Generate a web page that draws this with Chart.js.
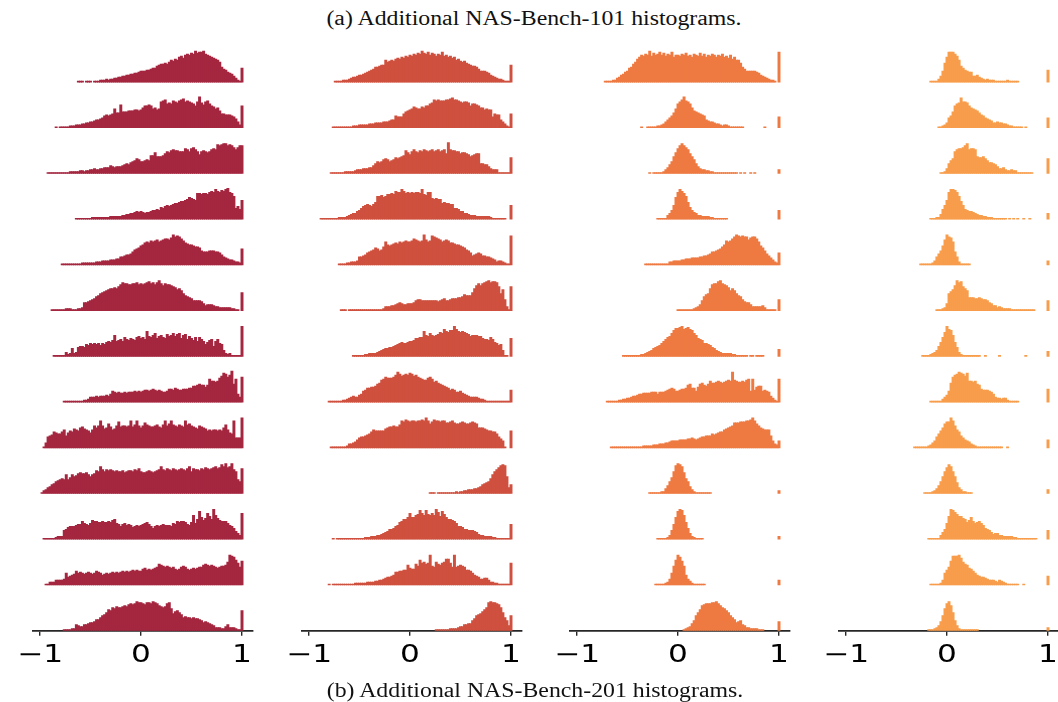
<!DOCTYPE html>
<html>
<head>
<meta charset="utf-8">
<script src="https://cdn.jsdelivr.net/npm/chart.js@4.4.1/dist/chart.umd.min.js"></script>
<style>
  html, body { margin: 0; padding: 0; background: #fff; width: 1058px; height: 702px; overflow: hidden; position: relative; }
  canvas { position: absolute; top: 0; }
  .cap {
    position: absolute;
    font-family: "Liberation Serif", "Times New Roman", serif;
    font-size: 20px; line-height: 20px; color: #111; white-space: nowrap;
    transform: translate(-50%, -50%) scaleX(1.19);
  }
</style>
</head>
<body>
<div class="cap" style="left:533.5px; top:17.5px">(a) Additional NAS-Bench-101 histograms.</div>
<canvas id="c0" width="300" height="702"></canvas>
<canvas id="c1" width="300" height="702"></canvas>
<canvas id="c2" width="300" height="702"></canvas>
<canvas id="c3" width="300" height="702"></canvas>
<div class="cap" style="left:535px; top:690px">(b) Additional NAS-Bench-201 histograms.</div>
<script>
// Histogram bins: width 0.02, centred at -1, -0.98, ..., 1 (101 bins).
const BIN_START = -1;
const BIN_WIDTH = 0.02;

// Bin heights, one base-36 character per bin (spaces only group the bins in tens).
// Thirteen stacked histograms per column, listed top to bottom.
const hist1 = [
  "0000000000 0000000001 1101110111 2223233445 566778899a bbbccdeegh iijikmlnmp qorsrtsvtu uvsrqponmk fdca986421 e",
  "0000000010 1111122233 3445566788 9acdcdejff nggghhhiih ikmmnmjkij qrsoporqpr stqrqpomqv pnqromljkh eedddcb963 m",
  "0000111111 1111122222 3323344544 5566687677 789a9bcdfe ccdediilhh hikmlnonnm mmpompqomj mnmlmopots tuustsqoqs s",
  "0000000000 0000000011 1111112222 2222233333 3445566787 87677899a9 cbdedefggh iijkmlkjqq pqqprsrusr tsuvrqnbda j",
  "0000000000 0111111111 1222222233 3444455566 889aabdfgh jkmnmonopn opqqprusts qomlkkjiih edddeeeddc a876554332 g",
  "0000001111 1112221112 23889abcef hijklmmnmo qsrrqqrrsq rqrstrsqsu rprqqponlm khfedcaaaa 9756665443 3333322110 i",
  "0000000111 1114238349 aa9cbdcdcd bdcefeglfg hfjhgihgjk ijhpkjlnik ljimklnkmn ilmhkigjfj hfceghafhd c632311111 u",
  "0000000000 0011111111 1122355565 666768ba9a 99a9aaabab abccbcdcbc baabddcedc cdddeegghi hhfhnllklo qtsprvin85 p",
  "0015bcdgfe egicfhgjih kljihfimkm rmjkolijmq lmmlmrlnrm kmpnmllmnl knrmornmln mlrnomlkjm lkjhihiihi hkniferaaa u",
  "0134679acd efejegjhik lkkljhjknm romononmnm mnlmnnmonp mllmnmlmno ronponpono ponprmpoon poqpopqrpq truqruomec p",
  "0011111123 339acdddef figfegjiih hihhihjkgf dfgefecded efghfdbded efeeedgfih iihfehogks mjlqnkuolj iiigedb864 q",
  "0001133355 556c89abec dcbcdcbced cabcbcdcdc dededefefe eghfgfghil kjijihigfg ijigfghghi iklkjkjihi jjknutspmi o",
  "0000000000 0011112265 44667889bb dfgilknmon nopoqrqrts srqssrtsrp onorsmhjki gdeddcdccb a898765333 2246333211 k"
];

const hist2 = [
  "0000000000 0001111222 345567789a bcdffghhmk lmlnonpoqp rqsrtsvtsu rtsqsruqrp qopmnlklji hggfdbbba9 7654332111 h",
  "0000000000 0011111111 1122233333 4445555666 788cbbbegh ijlkjjlkmm opsrsrrrss tussrqpqqp moonmkkiji ibedd86421 e",
  "0000000000 0111111122 2223444555 668acbcefe cdegfghinl jmomlnmonm nomnomnokv onnmmkllkj hijkkaa997 5444111111 g",
  "0000001111 1111122223 456689bdef edfhnnomnp pqpsrrusqr qrqrrqupor rlklkkghgg ffbba88665 4443333333 2111111100 e",
  "0000000000 0000011112 23334889ac defhgefink jklmlnmnon noqponoupn otsrqpnopo mmlkkjihfe c9abcb9988 7653443211 t",
  "0000000000 0000001110 1111111111 1111111244 4556787667 778abbaaaa aaaa9abcaa bcccddegff fimprprstu sttsohlb41 o",
  "0000000000 0000000000 0011111122 3333456788 99abcdedde ffgiijjplk nlklmonrpo qqurpoponm klllkkihhg jhedbc6110 i",
  "0000000000 1111111223 4565578bce effgijmnpo ooprusqrsr tsqrponmmo pnkljihgfe cdcaab9876 5555433211 1111111111 c",
  "0000000000 0111111112 44568abbcd egihhhhhjk llmllnrqsr qrrqrrsrur oqsrrqrrpp qrpoopqpoo pqpokkkjih hggeb97100 h",
  "0000000000 0000000000 0000000000 0000000000 0000000000 0000000000 1110111111 1112122334 4455679abc fjmoqstsh6 9",
  "0000000000 0010111111 1111111122 2333445678 aabdehikkm qmmoptqotp oqournspmk kjigddcaa9 9987544333 3221111111 f",
  "0000000000 1011111111 1112222223 3334455678 89addeeffk hggljpmnlm ujinlkmnqq miuijkjiff eca9866775 3322111111 m",
  "0000000000 0000000000 0000000000 0000000000 0000000000 0000000000 0001111111 2222344667 7acfghjlns tssrqnida5 f"
];

const hist3 = [
  "0000000000 0000111122 4578abefik nprqsrvqtr surtqsrupr rqsrtqrpsr qtqsprqsrp rqspqornpm mjfdbbbbba 9765432210 u",
  "0000000000 0000000000 0000000000 0010011111 223468acfj oqsvrqokhg fedc876654 4323321111 1110000000 0001000000 b",
  "0000000000 0000000000 0000000000 0000001011 1112469chl psusqokhea 7544332211 1111111111 0101001010 0000000000 4",
  "0000000000 0000000000 0000000000 0000000000 11111469em rusqnhc976 4433332211 1111100000 0000000000 0000000000 9",
  "0000000000 0000000000 0000000000 0000111111 1111113344 4455666777 78899abdde fgikonoqsu tstssprssq njheb97532 c",
  "0000000000 0000000000 0000000000 0000000000 0000000000 1111111123 46aeghmqrr turqpnkmkh feb9886444 4453111110 b",
  "0000000000 0000000000 0001111111 1122345689 abdfhjknqs sturstrqnl ihgddcb986 5433333221 1111101101 1110000000 7",
  "0000000000 0000011111 1223344566 7889999aaa 8aaabcdedb bcddehieeb fijhgiljjk lkjklmluml kklkmnbncf ggbcba6421 n",
  "0000000000 0000000111 1111111111 1112222233 3444556777 7888899a98 9abbcccede fggijklmpp pqqqrrsuro mkjiiic743 7",
  "0000000000 0000000000 0000000000 0000001111 112258cgms utrlfc7421 1111111000 0000000000 0000000000 0000000000 3",
  "0000000000 0000000000 0000000000 0000000000 11111249fm sutohb6321 1110000000 0000000000 0000000000 0000000000 3",
  "0000000000 0000000000 0000000000 0000000001 1111236cjp usoja64211 1111000000 0000000000 0000000000 0000000000 5",
  "0000000000 0000000000 0000000000 0000000000 0000000000 00012347af ilpqrrrsst rpnmkifdb8 9a65332222 1110000000 9"
];

const hist4 = [
  "0000000000 0000000000 0000000000 0000000000 00111136bj puuusqmgec baa6675432 3222111111 2111110000 0000000000 c",
  "0000000000 0000000000 0000000000 0000000000 0000001123 5acgmopuqq pmkjihfdca 9875565544 3221111101 0000000000 a",
  "0000000000 0000000000 0000000000 0000000000 0000000112 5adfmoppqs uoppohgghf dbba975564 3343311111 1110000000 f",
  "0000000000 0000000000 0000000000 0000000000 00111225ae jruutrniea 9887654433 2221111111 0101010010 0100000000 6",
  "0000000000 0000000000 0000000000 0000000111 111248bejp usrnd83111 1100000000 0000000000 0000000000 0000000000 4",
  "0000000000 0000000000 0000000000 0000000000 0000011123 7hjlpustom kdddccdcbb a875534322 2211111111 1111000000 a",
  "0000000000 0000000000 0000000000 0000000011 112346aejo urqle94211 1111111001 0000001000 0000000001 0000000000 5",
  "0000000000 0000000000 0000000000 0000000000 0011111135 7bjprsutsq tllklihdcc cba8544344 2111110000 0000000000 d",
  "0000000000 0000000000 0000000000 0000111111 12357behko qqurmigca8 7643211111 1111111100 1000000000 0000000000 8",
  "0000000000 0000000000 0000000000 0000000001 1112358chm qtrmhb6422 1110000000 0000000000 0000000000 0000000000 4",
  "0000000000 0000000000 0000000000 0000000000 011111147a gnutrpnnlk hjmighigeb a975664433 3332211111 1111100000 9",
  "0000000000 0000000000 0000000000 0000000000 001111125c fiottturnl khgeca9887 6555435432 1111110010 0000000000 9",
  "0000000000 0000000000 0000000000 0000000000 01112359fm rtpia52111 1111110000 0000000000 0000000000 0000000000 3"
];

const TICK_VALUES = [-1, 0, 1];
const TICK_LABELS = ['\u22121', '0', '1'];
const COLUMN_COLORS = ['#a4263f', '#cf503e', '#ee7a42', '#f79d4b'];
const COLUMNS = [hist1, hist2, hist3, hist4];

// Layout
const PANEL_LEFT = [-7, 262, 530, 799];   // canvas left edges
const PAD_X = 40, PAD_TOP = 40, AXIS_H = 30;
const CANVAS_H = 702;
const PLOT_BOTTOM = 630.7;
const ROW_GAP = 45.72;
const Y_MAX = PLOT_BOTTOM - PAD_TOP;
const X_MIN = -1.0693, X_MAX = 1.1089;

function decode(str) {
  const s = str.replace(/ /g, '');
  return Array.from(s, c => parseInt(c, 36));
}

function buildDatasets(rows, color) {
  const n = rows.length;
  return rows.map((row, i) => {
    const base = (n - 1 - i) * ROW_GAP;
    const data = [];
    decode(row).forEach((h, k) => {
      if (h > 0) data.push({ x: BIN_START + k * BIN_WIDTH, y: [base, base + h] });
    });
    return {
      data,
      backgroundColor: color,
      borderWidth: 0,
      barThickness: 2.3,
      grouped: false
    };
  });
}

// Tick labels drawn horizontally widened, as in the printed figure.
const wideTickLabels = {
  id: 'wideTickLabels',
  afterDraw(chart, args, opts) {
    const sx = chart.scales.x;
    const ctx = chart.ctx;
    ctx.save();
    ctx.font = opts.size + 'px ' + opts.family;
    ctx.fillStyle = opts.color;
    ctx.textAlign = 'center';
    ctx.textBaseline = 'alphabetic';
    const y = chart.chartArea.bottom + opts.offset;
    TICK_VALUES.forEach((v, i) => {
      ctx.save();
      ctx.translate(sx.getPixelForValue(v), y);
      ctx.scale(opts.stretch, 1);
      ctx.fillText(TICK_LABELS[i], 0, 0);
      ctx.restore();
    });
    ctx.restore();
  }
};

COLUMNS.forEach((rows, p) => {
  const canvas = document.getElementById('c' + p);
  canvas.style.left = PANEL_LEFT[p] + 'px';
  canvas.style.width = '300px';
  canvas.style.height = CANVAS_H + 'px';
  new Chart(canvas, {
    type: 'bar',
    data: { datasets: buildDatasets(rows, COLUMN_COLORS[p]) },
    plugins: [wideTickLabels],
    options: {
      responsive: false,
      animation: false,
      devicePixelRatio: 1,
      events: [],
      layout: {
        padding: { left: PAD_X, right: PAD_X, top: PAD_TOP, bottom: CANVAS_H - PLOT_BOTTOM - AXIS_H }
      },
      plugins: {
        legend: { display: false },
        tooltip: { enabled: false },
        wideTickLabels: { size: 24, family: '"DejaVu Sans", sans-serif', color: '#000', offset: 31.3, stretch: 1.3 }
      },
      scales: {
        x: {
          type: 'linear',
          offset: false,
          min: X_MIN,
          max: X_MAX,
          afterBuildTicks: s => { s.ticks = TICK_VALUES.map(v => ({ value: v })); },
          afterFit: s => { s.height = AXIS_H; },
          ticks: { display: false },
          grid: { display: true, offset: false, drawOnChartArea: false, drawTicks: true, tickLength: 5, color: '#262626', lineWidth: 1.4 },
          border: { display: true, color: '#262626', width: 1.8 }
        },
        y: {
          type: 'linear',
          display: false,
          min: 0,
          max: Y_MAX
        }
      }
    }
  });
});
</script>
</body>
</html>
